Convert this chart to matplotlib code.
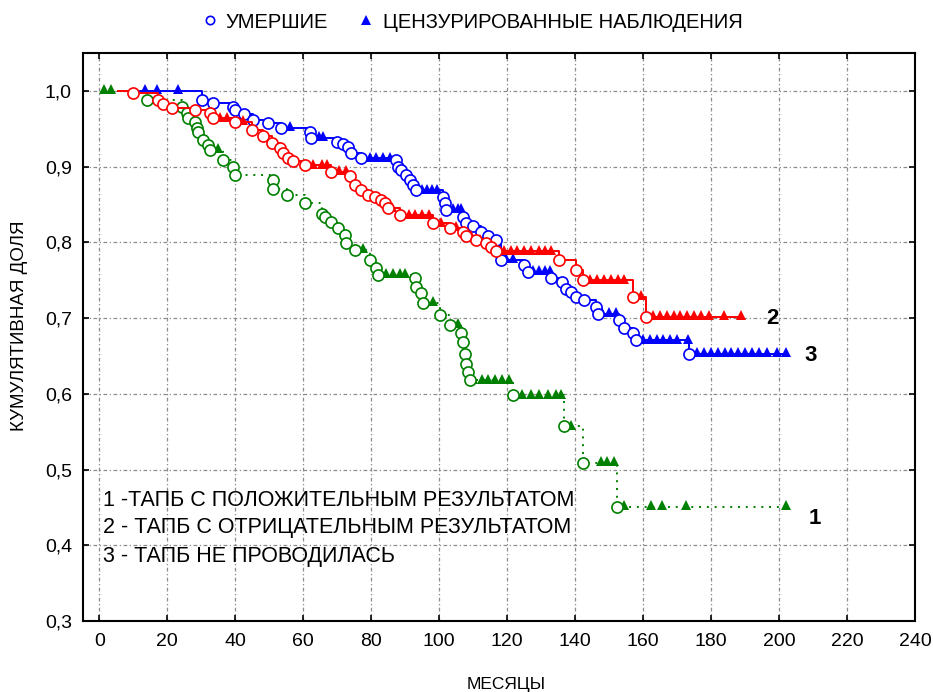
import matplotlib.pyplot as plt
import numpy as np
from matplotlib.lines import Line2D

plt.rcParams['font.family'] = ['Liberation Sans', 'DejaVu Sans']

# группа 1 - ТАПБ с положительным результатом
t1_start = 1.5
t1_death = [13.9, 24.2, 25.7, 26.2, 28.1, 28.6, 29.1, 30.6, 32.0, 32.5, 36.4, 39.4, 39.8,
            51.0, 51.2, 55.1, 60.4, 65.4, 66.3, 68.3, 70.2, 72.2, 72.7, 75.1, 79.5, 81.5, 82.0,
            92.8, 93.3, 94.7, 95.2, 100.1, 103.1, 106.5, 107.0, 107.5, 108.0, 108.5, 109.0,
            121.7, 136.8, 142.2, 152.2]
s1_death = [0.988, 0.979, 0.971, 0.964, 0.959, 0.951, 0.946, 0.935, 0.929, 0.922, 0.909, 0.900, 0.889,
            0.882, 0.871, 0.863, 0.852, 0.838, 0.834, 0.827, 0.819, 0.810, 0.799, 0.790, 0.777, 0.766, 0.757,
            0.753, 0.741, 0.733, 0.720, 0.704, 0.691, 0.680, 0.669, 0.653, 0.640, 0.629, 0.618,
            0.598, 0.557, 0.509, 0.451]
t1_cens = [1.5, 3.5, 35.0, 77.5, 84.4, 86.5, 88.5, 90.0, 98.1, 105.4, 110.0, 112.5, 114.5, 116.5,
           118.5, 120.5, 124.5, 127.0, 129.5, 132.0, 134.5, 135.8, 138.8, 147.6, 149.5, 151.5,
           154.5, 162.3, 165.7, 172.6, 202.0]

# группа 2 - ТАПБ с отрицательным результатом
t2_start = 5.5
t2_death = [10.0, 17.3, 18.8, 21.3, 28.1, 32.5, 33.5, 39.9, 44.8, 48.2, 50.7, 53.1, 54.1, 55.5,
            57.0, 60.4, 68.3, 73.7, 75.1, 77.1, 79.0, 81.0, 83.0, 84.0, 84.9, 88.4, 98.1, 103.1,
            107.0, 108.0, 110.9, 113.8, 115.3, 116.8, 135.4, 140.3, 142.2, 156.9, 160.9]
s2_death = [0.997, 0.988, 0.982, 0.977, 0.975, 0.971, 0.964, 0.959, 0.948, 0.940, 0.931, 0.924, 0.918, 0.911,
            0.907, 0.902, 0.893, 0.887, 0.876, 0.869, 0.863, 0.860, 0.856, 0.852, 0.845, 0.836, 0.825, 0.819,
            0.814, 0.808, 0.803, 0.799, 0.794, 0.788, 0.777, 0.764, 0.750, 0.728, 0.702]
t2_cens = [35.5, 37.5, 42.3, 63.0, 65.4, 67.0, 70.5, 72.5, 86.0, 91.0, 93.0, 95.0, 97.0, 100.6,
           105.0, 109.5, 112.0, 119.0, 121.0, 123.0, 125.0, 127.0, 129.5, 131.0, 133.0,
           144.5, 146.5, 148.5, 150.5, 152.5, 154.5, 159.4, 163.0, 165.0, 167.0, 169.0, 171.0,
           173.0, 175.0, 177.0, 179.5, 183.8, 188.8]

# группа 3 - ТАПБ не проводилась
t3_start = 8.0
t3_death = [30.1, 33.5, 39.4, 39.9, 42.5, 45.3, 49.7, 53.6, 61.9, 62.4, 69.8, 71.7, 73.2, 74.2, 77.1,
            87.4, 87.9, 88.9, 90.3, 91.3, 92.3, 93.3, 101.1, 101.6, 102.1, 107.0, 108.0, 110.0,
            112.4, 114.3, 116.8, 118.2, 125.1, 126.1, 133.0, 136.0, 137.4, 138.8, 140.3, 142.7,
            146.2, 146.7, 153.0, 154.5, 156.9, 157.9, 173.6]
s3_death = [0.988, 0.984, 0.979, 0.975, 0.969, 0.962, 0.957, 0.951, 0.946, 0.938, 0.933, 0.930, 0.926, 0.918, 0.911,
            0.909, 0.900, 0.896, 0.889, 0.882, 0.876, 0.869, 0.860, 0.852, 0.843, 0.834, 0.825, 0.821,
            0.814, 0.808, 0.803, 0.777, 0.770, 0.761, 0.753, 0.748, 0.739, 0.735, 0.728, 0.724,
            0.715, 0.706, 0.697, 0.687, 0.680, 0.671, 0.653]
t3_cens = [13.5, 16.9, 23.2, 56.0, 64.5, 65.8, 79.5, 81.5, 83.5, 85.5, 95.0, 96.5, 98.0, 99.5,
           104.0, 105.5, 106.5, 119.7, 121.6, 127.6, 129.5, 131.0, 132.5, 148.0, 150.0, 152.0,
           160.0, 162.0, 164.0, 166.0, 168.0, 170.0, 173.2, 176.0, 178.0, 180.0, 182.0, 184.0,
           186.0, 188.0, 190.0, 192.0, 194.0, 196.5, 199.5, 202.0]

groups = [
    (t1_start, t1_death, s1_death, t1_cens, '#008000', (0, (1, 3))),
    (t3_start, t3_death, s3_death, t3_cens, '#0000ff', '-'),
    (t2_start, t2_death, s2_death, t2_cens, '#ff0000', '-'),
]

fig = plt.figure(figsize=(9.33, 6.92), dpi=100)
ax = fig.add_axes([83/933, 71/692, 832/933, 568/692])

for start, td, sd, tc, col, ls in groups:
    td = np.array(td)
    sd = np.array(sd)
    tc = np.array(tc)
    # уровень кривой в моменты цензурирования
    idx = np.searchsorted(td, tc, side='right') - 1
    sc = np.where(idx >= 0, sd[np.clip(idx, 0, None)], 1.0)
    t_end = max(td.max(), tc.max())
    xs = np.concatenate([[start], td, [t_end]])
    ys = np.concatenate([[1.0], sd, [sd[-1]]])
    ax.plot(xs, ys, drawstyle='steps-post', color=col, ls=ls, lw=1.4)
    ax.plot(tc, sc + 0.002, '^', color=col, ms=6.5, mew=0)
    ax.plot(td, sd, 'o', mfc='white', mec=col, ms=8, mew=1.2)

ax.set_xlim(-4.8, 240)
ax.set_ylim(0.3, 1.05)
ax.set_xticks(np.arange(0, 241, 20))
yt = np.arange(0.3, 1.01, 0.1)
ax.set_yticks(yt)
ax.set_yticklabels([f'{v:.1f}'.replace('.', ',') for v in yt])
ax.tick_params(direction='in', length=4, width=1.2, top=True, right=True,
               labelsize=14, pad=8)
ax.tick_params(axis='x', pad=9)
for sp in ax.spines.values():
    sp.set_linewidth(1.5)
ax.grid(True, color='#8c8c8c', ls=(0, (3, 2, 1, 2)), lw=0.9)
ax.set_axisbelow(True)

ax.text(198, 0.700, '2', fontsize=16, fontweight='bold', ha='center', va='center')
ax.text(209.4, 0.651, '3', fontsize=16, fontweight='bold', ha='center', va='center')
ax.text(210.6, 0.435, '1', fontsize=16, fontweight='bold', ha='center', va='center')

ax.text(1.0, 0.459, '1 -ТАПБ С ПОЛОЖИТЕЛЬНЫМ РЕЗУЛЬТАТОМ', fontsize=15.5, va='center')
ax.text(1.0, 0.424, '2 - ТАПБ С ОТРИЦАТЕЛЬНЫМ РЕЗУЛЬТАТОМ', fontsize=15.5, va='center')
ax.text(1.0, 0.385, '3 - ТАПБ НЕ ПРОВОДИЛАСЬ', fontsize=15.5, va='center')

fig.text(506/933, 1 - 685/692, 'МЕСЯЦЫ', fontsize=12.5, ha='center', va='center')
fig.text(20/933, 1 - 326/692, 'КУМУЛЯТИВНАЯ ДОЛЯ', fontsize=13.5, rotation=90,
         ha='center', va='center')

handles = [Line2D([], [], ls='none', marker='o', mfc='white', mec='#0000ff', ms=6, mew=1.2),
           Line2D([], [], ls='none', marker='^', color='#0000ff', ms=7, mew=0)]
fig.legend(handles, ['УМЕРШИЕ', 'ЦЕНЗУРИРОВАННЫЕ НАБЛЮДЕНИЯ'], loc='center',
           bbox_to_anchor=(473/933, 1 - 22/692), ncol=2, frameon=False,
           fontsize=14.5, handlelength=0.6, handletextpad=0.5, columnspacing=1.6)

fig.savefig('out.png', dpi=100)
